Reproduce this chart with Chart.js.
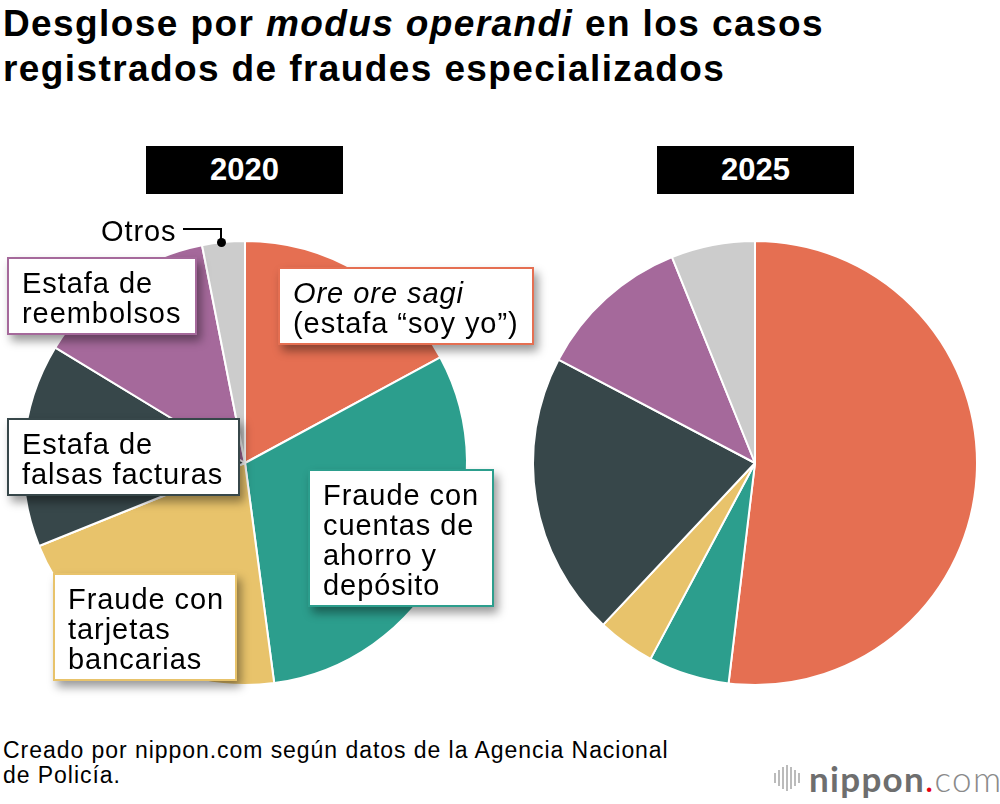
<!DOCTYPE html>
<html>
<head>
<meta charset="utf-8">
<script src="https://cdn.jsdelivr.net/npm/chart.js@4/dist/chart.umd.min.js"></script>
<style>
  body { margin: 0; background: #fff; font-family: "Liberation Sans", Arial, sans-serif; color: #000; }
  #page { position: relative; width: 1000px; height: 804px; overflow: hidden; background: #fff; }
  .title { position: absolute; left: 3px; top: 1px; font-size: 37px; font-weight: bold; line-height: 45px; letter-spacing: 1.4px; white-space: nowrap; }
  .year { position: absolute; top: 146px; width: 197px; height: 48px; background: #000; color: #fff;
          font-size: 31px; font-weight: bold; line-height: 48px; text-align: center; }
  canvas { position: absolute; }
  .lbl { position: absolute; box-sizing: border-box; background: #fff; border: 2px solid;
         padding: 9px 0 0 13px; font-size: 29px; line-height: 30px; letter-spacing: 0.95px; white-space: nowrap;
         box-shadow: 4px 6px 9px rgba(0,0,0,0.4); z-index: 2; }
  .otros { position: absolute; left: 101px; top: 215px; font-size: 29px; line-height: 32px; letter-spacing: 0.9px; z-index: 2; }
  .conn { position: absolute; border-top: 2px solid #000; border-right: 2px solid #000; left: 183px; top: 228px; width: 37px; height: 14px; z-index: 2; }
  .dot { position: absolute; left: 217px; top: 238px; width: 9px; height: 9px; border-radius: 50%; background: #000; z-index: 2; }
  .source { position: absolute; left: 3px; top: 738px; font-size: 23px; line-height: 25px; letter-spacing: 0.95px; }
  .logo { position: absolute; left: 774px; top: 757px; height: 42px; white-space: nowrap; }
  .logo .bars { display: inline-block; vertical-align: middle; margin-right: 7px; }
  .logo .bars span { display: inline-block; width: 2px; background: #bbb; margin-right: 2px; vertical-align: middle; }
  .logo .txt { display: inline-block; vertical-align: middle; font-family: Lato, "Liberation Sans", sans-serif; font-size: 35px; letter-spacing: 1.3px; }
</style>
</head>
<body>
<div id="page">
  <div class="title">Desglose por <i>modus operandi</i> en los casos<br>registrados de fraudes especializados</div>

  <div class="year" style="left:146px">2020</div>
  <div class="year" style="left:657px">2025</div>

  <canvas id="pie2020" width="470" height="470" style="left:10px; top:228px"></canvas>
  <canvas id="pie2025" width="470" height="470" style="left:520px; top:228px"></canvas>

  <div class="otros">Otros</div>
  <div class="conn"></div>
  <div class="dot"></div>

  <div class="lbl" style="left:278px; top:267px; width:256px; height:78px; border-color:#e56f52"><i>Ore ore sagi</i><br>(estafa “soy yo”)</div>
  <div class="lbl" style="left:7px; top:257px; width:190px; height:78px; border-color:#a5699b">Estafa de<br>reembolsos</div>
  <div class="lbl" style="left:7px; top:418px; width:233px; height:78px; border-color:#37474a">Estafa de<br>falsas facturas</div>
  <div class="lbl" style="left:308px; top:469px; width:186px; height:138px; border-color:#2c9e8d">Fraude con<br>cuentas de<br>ahorro y<br>depósito</div>
  <div class="lbl" style="left:53px; top:573px; width:184px; height:108px; border-color:#e8c36b">Fraude con<br>tarjetas<br>bancarias</div>

  <div class="source">Creado por nippon.com según datos de la Agencia Nacional<br>de Policía.</div>

  <div class="logo">
    <span class="bars"><span style="height:10px"></span><span style="height:16px"></span><span style="height:22px"></span><span style="height:26px"></span><span style="height:22px"></span><span style="height:16px"></span><span style="height:10px"></span></span><span class="txt"><b style="color:#6e6e6e">nippon</b><span style="color:#e50012">.</span><span style="color:#8a8a8a; font-weight:300">com</span></span>
  </div>
</div>

<script>
// --- DONNEES ---
const categories = [
  'Ore ore sagi (estafa “soy yo”)',
  'Fraude con cuentas de ahorro y depósito',
  'Fraude con tarjetas bancarias',
  'Estafa de falsas facturas',
  'Estafa de reembolsos',
  'Otros'
];
const years = ['2020', '2025'];
const values2020 = [17.1, 30.8, 21.0, 14.8, 13.2, 3.1];
const values2025 = [51.9, 5.9, 4.2, 20.7, 11.2, 6.1];

const sliceColors = ['#e56f52', '#2c9e8d', '#e8c36b', '#37474a', '#a5699b', '#cccccc'];

// --- CAMEMBERT ---
function makePie(canvasId, values) {
    const ctx = document.getElementById(canvasId).getContext('2d');
    return new Chart(ctx, {
        type: 'pie',
        data: {
            labels: categories,
            datasets: [{
                data: values,
                backgroundColor: sliceColors,
                borderColor: '#ffffff',
                borderWidth: 2,
                radius: 222
            }]
        },
        options: {
            responsive: false,
            animation: false,
            layout: { padding: 0 },
            plugins: {
                legend: { display: false },
                tooltip: { enabled: false }
            }
        }
    });
}

makePie('pie2020', values2020);
makePie('pie2025', values2025);
</script>
</body>
</html>
